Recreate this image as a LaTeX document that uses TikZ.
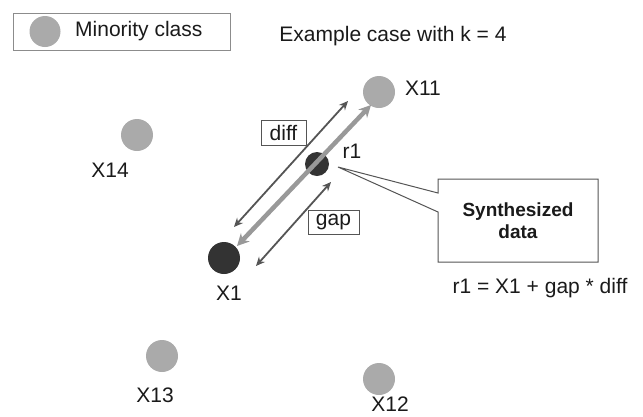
\documentclass[tikz,border=0pt]{standalone}
\usepackage{fontspec}
\setmainfont{Liberation Sans}
\usetikzlibrary{arrows.meta}
\definecolor{pointgray}{HTML}{AAAAAA}
\definecolor{darkpt}{HTML}{333333}
\definecolor{linegray}{HTML}{555555}
\definecolor{lightarrow}{HTML}{999999}
\definecolor{txt}{HTML}{1A1A1A}
\begin{document}
\begin{tikzpicture}[x=1pt,y=-1pt,
  every node/.style={text=txt, font=\fontsize{21}{24}\selectfont},
  minority/.style={circle, fill=pointgray, minimum size=32pt, inner sep=0pt},
  sample/.style={circle, fill=darkpt, inner sep=0pt},
  lbl/.style={inner sep=0pt},
  tagbox/.style={draw=linegray, line width=0.9pt, fill=white, inner sep=4pt},
  thinarrow/.style={draw=linegray, line width=1.8pt, {Stealth[length=9pt,width=8pt]}-{Stealth[length=9pt,width=8pt]}},
  thickarrow/.style={draw=lightarrow, line width=4.5pt, {Stealth[length=12pt,width=12pt]}-{Stealth[length=12pt,width=12pt]}}
]
\useasboundingbox (0,0) rectangle (643,416);

% legend
\draw[draw=gray!90, line width=1pt, fill=white] (13,13) rectangle (230,50);
\node[minority, minimum size=31pt] (legdot) at (45,31.5) {};
\node[lbl, anchor=west] (legtext) at (75,31.5) {Minority class};
\node[lbl] (title) at (393,36) {Example case with k = 4};

% neighbour points
\node[minority] (x11) at (379,92) {};
\node[minority] (x14) at (137,135) {};
\node[minority] (x13) at (162,356) {};
\node[minority] (x12) at (379,379) {};
\node[lbl] (x11l) at (423,88) {X11};
\node[lbl] (x14l) at (110,170) {X14};
\node[lbl] (x13l) at (155,395) {X13};
\node[lbl, anchor=south] (x12l) at (390,412) {X12};

% base sample and synthetic sample
\node[sample, minimum size=32pt] (x1) at (224,258) {};
\node[sample, minimum size=24pt] (r1) at (317,164) {};
\node[lbl] (x1l) at (229,293) {X1};
\node[lbl] (r1l) at (352,151) {r1};

% difference vectors
\coordinate (thickA) at (237,246);
\coordinate (thickB) at (371,105);
\coordinate (diffA) at (234,227);
\coordinate (diffB) at (348,101);
\coordinate (gapA) at (256,266);
\coordinate (gapB) at (331,182);
\draw[thickarrow] (thickA) -- (thickB);
\draw[thinarrow] (diffA) -- (diffB);
\draw[thinarrow] (gapA) -- (gapB);

\node[tagbox, minimum width=45pt, minimum height=25pt, inner sep=0pt] (diff) at (283.5,132.5) {diff};
\node[tagbox, minimum width=51pt, minimum height=24pt, inner sep=0pt] (gap) at (333.5,222) {gap};

% callout
\coordinate (tip) at (338,167);
\draw[draw=linegray, line width=1pt, fill=white, line join=miter]
  (438,193) -- (438,179) -- (598,179) -- (598,262) -- (438,262) -- (438,212) -- (tip) -- cycle;
\node[lbl, align=center, font=\bfseries\fontsize{19}{22}\selectfont] (synth) at (518,221) {Synthesized\\data};

\node[lbl] (formula) at (540,288) {r1 = X1 + gap * diff};
\end{tikzpicture}
\end{document}
